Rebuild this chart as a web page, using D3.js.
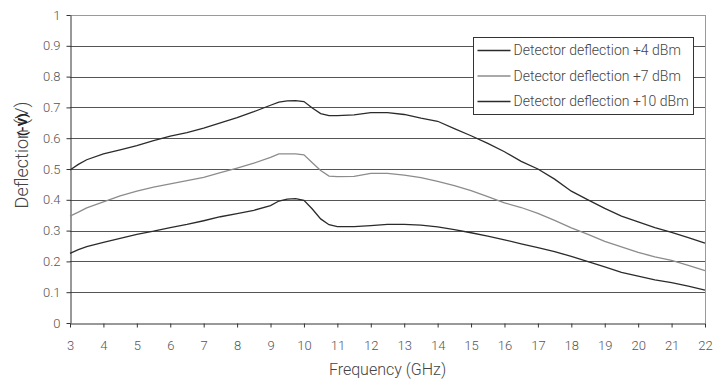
<!DOCTYPE html>
<html>
<head>
<meta charset="utf-8">
<script src="https://cdn.jsdelivr.net/npm/d3@7"></script>
<style>
  body { margin: 0; background: #fff; }
  svg { display: block; font-family: Roboto, "Open Sans", sans-serif; font-weight: 300; }
</style>
</head>
<body>
<svg class="chart" width="721" height="385"></svg>
<script>
// frequency points (GHz)
const freq = [3, 3.25, 3.5, 4, 4.5, 5, 5.5, 6, 6.5, 7, 7.5, 8, 8.5, 9, 9.25, 9.5, 9.75, 10, 10.25, 10.5, 10.75, 11,
  11.5, 12, 12.5, 13, 13.5, 14, 14.5, 15, 15.5, 16, 16.5, 17, 17.5, 18, 18.5, 19, 19.5, 20, 20.5, 21, 21.5, 22]

const defl4 = [0.226, 0.238, 0.248, 0.262, 0.275, 0.288, 0.298, 0.31, 0.32, 0.332, 0.345, 0.355, 0.366, 0.381, 0.396, 0.402, 0.404, 0.398, 0.37, 0.338, 0.319, 0.313,
  0.313, 0.316, 0.32, 0.32, 0.318, 0.312, 0.303, 0.293, 0.282, 0.27, 0.257, 0.245, 0.232, 0.216, 0.199, 0.182, 0.164, 0.152, 0.14, 0.131, 0.12, 0.107]

const defl7 = [0.347, 0.36, 0.374, 0.393, 0.413, 0.428, 0.441, 0.452, 0.462, 0.473, 0.488, 0.503, 0.519, 0.538, 0.549, 0.549, 0.549, 0.546, 0.52, 0.495, 0.477, 0.475,
  0.476, 0.486, 0.486, 0.48, 0.472, 0.46, 0.446, 0.43, 0.41, 0.39, 0.375, 0.356, 0.333, 0.309, 0.288, 0.265, 0.247, 0.229, 0.215, 0.203, 0.187, 0.17]

const defl10 = [0.497, 0.515, 0.53, 0.549, 0.562, 0.576, 0.592, 0.607, 0.618, 0.633, 0.65, 0.667, 0.686, 0.707, 0.717, 0.721, 0.722, 0.719, 0.698, 0.68, 0.673, 0.673,
  0.676, 0.683, 0.683, 0.677, 0.665, 0.655, 0.631, 0.608, 0.583, 0.556, 0.525, 0.5, 0.467, 0.428, 0.4, 0.372, 0.347, 0.328, 0.31, 0.294, 0.277, 0.259]

const seriesNames = ["Detector deflection +4 dBm", "Detector deflection +7 dBm", "Detector deflection +10 dBm"]
const seriesColors = ["#2b2b2b", "#8c8c8c", "#2b2b2b"]

const xTicks = d3.range(3, 23, 1)
const yTicks = [0, 0.1, 0.2, 0.3, 0.4, 0.5, 0.6, 0.7, 0.8, 0.9, 1]

const margin = {top: 15, right: 16, bottom: 62, left: 70}
const width = 721 - margin.left - margin.right
const height = 385 - margin.top - margin.bottom

const svg = d3.select('.chart')
const g = svg.append("g").attr("transform", `translate(${margin.left},${margin.top})`)

const x = d3.scaleLinear().domain([3, 22]).range([0, width])
const y = d3.scaleLinear().domain([0, 1]).range([height, 0])

// horizontal grid lines
g.selectAll('.grid')
  .data(yTicks.slice(1))
  .enter().append('line')
    .attr('class', 'grid')
    .attr('x1', 0).attr('x2', width)
    .attr('y1', d => Math.round(y(d)) + 0.5)
    .attr('y2', d => Math.round(y(d)) + 0.5)
    .attr('stroke', d => d === 1 ? '#9a9a9a' : '#555')
    .attr('stroke-width', 1)

// right border of plot area
g.append('line')
  .attr('x1', width + 0.5).attr('x2', width + 0.5)
  .attr('y1', 0).attr('y2', height)
  .attr('stroke', '#9a9a9a')

const xAxis = g.append("g")
  .attr("transform", `translate(0,${Math.round(height) + 0.5})`)
  .call(d3.axisBottom(x).tickValues(xTicks).tickFormat(d3.format('d')).tickSize(4).tickSizeOuter(0).tickPadding(13))

const yAxis = g.append("g")
  .attr("transform", `translate(0.5,0)`)
  .call(d3.axisLeft(y).tickValues(yTicks).tickFormat(d => d === 0 || d === 1 ? d : d3.format('.1f')(d)).tickSize(4).tickSizeOuter(0).tickPadding(6))

for (const ax of [xAxis, yAxis]) {
  ax.select('.domain').attr('stroke', '#333')
  ax.selectAll('.tick line').attr('stroke', '#333')
  ax.selectAll('.tick text').attr('fill', '#555').style('font-size', '13px').style('font-family', 'Roboto, sans-serif').style('font-weight', 300)
}

// series lines
const line = d3.line()
  .x((d, i) => x(freq[i]))
  .y(d => y(d))

const allSeries = [defl4, defl7, defl10]
g.selectAll('.series')
  .data(allSeries)
  .enter().append('path')
    .attr('class', 'series')
    .attr('d', d => line(d))
    .attr('fill', 'none')
    .attr('stroke', (d, i) => seriesColors[i])
    .attr('stroke-width', 1.3)

// axis titles
svg.append('text')
  .attr('x', margin.left + width / 2)
  .attr('y', 375)
  .attr('text-anchor', 'middle')
  .attr('fill', '#444')
  .style('font-size', '16px')
  .text('Frequency (GHz)')

const yTitle = svg.append('g').attr('transform', 'translate(28,155) rotate(-90)')
yTitle.append('text')
  .attr('text-anchor', 'middle')
  .attr('fill', '#444')
  .style('font-size', '18px')
  .text('Deflection (V)')
yTitle.append('text')
  .attr('x', 19)
  .attr('y', -1)
  .attr('fill', '#222')
  .style('font-size', '13px')
  .style('font-weight', 700)
  .text('(-V)')

// legend
const legend = svg.append('g').attr('transform', 'translate(473.5,37.5)')
legend.append('rect')
  .attr('width', 220).attr('height', 77)
  .attr('fill', '#fff').attr('stroke', '#333')

const item = legend.selectAll('.item')
  .data(seriesNames)
  .enter().append('g')
    .attr('class', 'item')
    .attr('transform', (d, i) => `translate(0,${13 + i * 25.5})`)
item.append('line')
  .attr('x1', 4).attr('x2', 37)
  .attr('stroke', (d, i) => seriesColors[i])
  .attr('stroke-width', 1.3)
item.append('text')
  .attr('x', 40)
  .attr('dy', '0.35em')
  .attr('fill', '#444')
  .style('font-size', '14px')
  .text(d => d)
</script>
</body>
</html>
